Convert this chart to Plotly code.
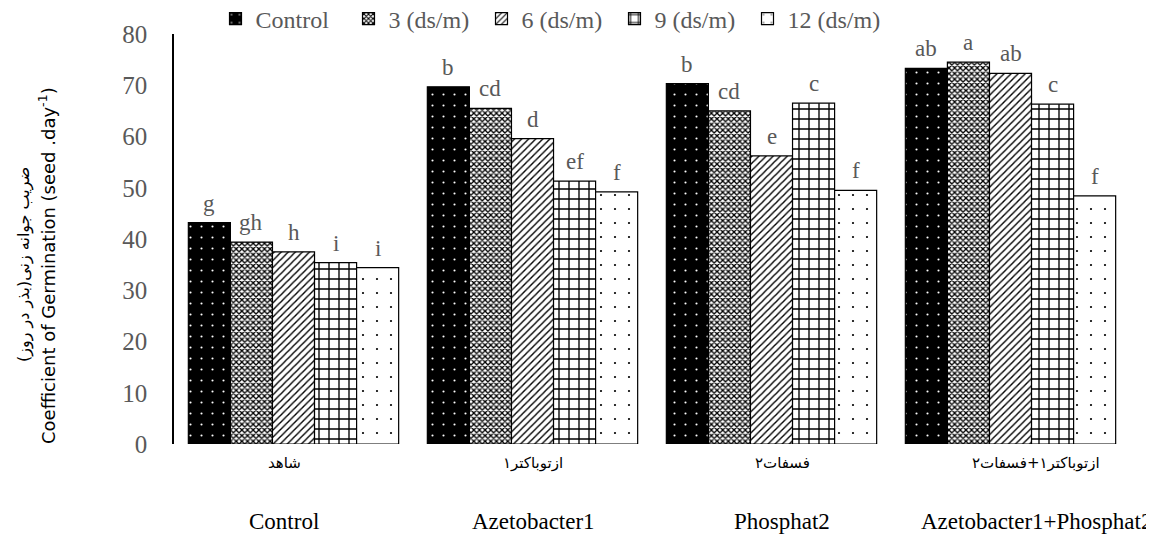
import plotly.graph_objects as go

categories = ["Control", "Azetobacter1", "Phosphat2", "Azetobacter1+Phosphat2"]
categories_fa = ["شاهد", "ازتوباکتر۱", "فسفات۲", "ازتوباکتر۱+فسفات۲"]
series_names = ["Control", "3 (ds/m)", "6 (ds/m)", "9 (ds/m)", "12 (ds/m)"]
y_title_fa = "ضریب جوانه زنی(بذر در روز)"
y_title_en = "Coefficient of Germination (seed .day<sup>-1</sup>)"

vals_control = [43.2, 69.7, 70.3, 73.3]
vals_3 = [39.4, 65.5, 65.0, 74.5]
vals_6 = [37.5, 59.6, 56.2, 72.3]
vals_9 = [35.4, 51.3, 66.5, 66.3]
vals_12 = [34.4, 49.2, 49.5, 48.4]

letters_control = ["g", "b", "b", "ab"]
letters_3 = ["gh", "cd", "cd", "a"]
letters_6 = ["h", "d", "e", "ab"]
letters_9 = ["i", "ef", "c", "c"]
letters_12 = ["i", "f", "f", "f"]

series_vals = [vals_control, vals_3, vals_6, vals_9, vals_12]
series_letters = [letters_control, letters_3, letters_6, letters_9, letters_12]

patterns = [
    dict(shape=".", bgcolor="black", fgcolor="white", size=11, solidity=0.03),
    dict(shape="x", bgcolor="white", fgcolor="black", size=4, solidity=0.55),
    dict(shape="/", bgcolor="white", fgcolor="black", size=5, solidity=0.28),
    dict(shape="+", bgcolor="white", fgcolor="black", size=10, solidity=0.25),
    dict(shape=".", bgcolor="white", fgcolor="black", size=14, solidity=0.02),
]

SERIF = "Liberation Serif"
GRAY = "#595959"

fig = go.Figure()
for name, vals, pat in zip(series_names, series_vals, patterns):
    fig.add_trace(go.Bar(
        name=name, x=categories, y=vals,
        marker=dict(color=pat["bgcolor"], pattern=dict(fillmode="replace", **pat),
                    line=dict(color="black", width=1.2)),
    ))

bar_px = 239 * 0.88 / 5
annotations = []
for si, (vals, lets) in enumerate(zip(series_vals, series_letters)):
    for ci, (v, t) in enumerate(zip(vals, lets)):
        annotations.append(dict(
            x=categories[ci], y=v, xref="x", yref="y", text=t, showarrow=False,
            xshift=(si - 2) * bar_px, yanchor="bottom", yshift=5,
            font=dict(family=SERIF, size=23, color=GRAY),
        ))

label_px = [282, 531, 780, 1034]
for fa, en, px in zip(categories_fa, categories, label_px):
    xp = (px - 172) / 956
    annotations.append(dict(x=xp, y=-0.046, xref="paper", yref="paper", text=fa,
                            showarrow=False, yanchor="middle", xanchor="center",
                            font=dict(family="DejaVu Sans", size=15, color="black")))
    annotations.append(dict(x=xp, y=-0.19, xref="paper", yref="paper", text=en,
                            showarrow=False, yanchor="middle", xanchor="center",
                            font=dict(family=SERIF, size=23, color="black")))

# y-axis title (two lines, rotated)
annotations.append(dict(x=(22 - 172) / 956, y=(443 - 264) / 410, xref="paper", yref="paper",
                        text=y_title_fa, textangle=-90, showarrow=False,
                        xanchor="center", yanchor="middle",
                        font=dict(family="DejaVu Sans", size=16, color="black")))
annotations.append(dict(x=(45 - 172) / 956, y=(443 - 265) / 410, xref="paper", yref="paper",
                        text=y_title_en, textangle=-90, showarrow=False,
                        xanchor="center", yanchor="middle",
                        font=dict(family="DejaVu Sans", size=18, color="black")))

fig.update_layout(
    width=1154, height=547,
    margin=dict(l=166, r=32, t=26, b=111, autoexpand=False),
    plot_bgcolor="white", paper_bgcolor="white",
    barmode="group", bargap=0.12, bargroupgap=0,
    showlegend=True,
    legend=dict(orientation="h", x=540 / 1154, xref="container", xanchor="center",
                y=1 - 11 / 547, yref="container", yanchor="middle",
                font=dict(family=SERIF, size=24, color=GRAY), itemwidth=30,
                entrywidth=88, tracegroupgap=0, bgcolor="rgba(0,0,0,0)"),
    annotations=annotations,
    font=dict(family=SERIF),
)
fig.update_xaxes(showticklabels=False, showline=False, showgrid=False, ticks="")
fig.update_yaxes(range=[0, 80], dtick=10, showgrid=False, showline=True, linecolor="black",
                 linewidth=1.5, ticks="", zeroline=False,
                 tickfont=dict(family=SERIF, size=25, color=GRAY), ticklabelstandoff=20)

fig.write_html("out.html")
